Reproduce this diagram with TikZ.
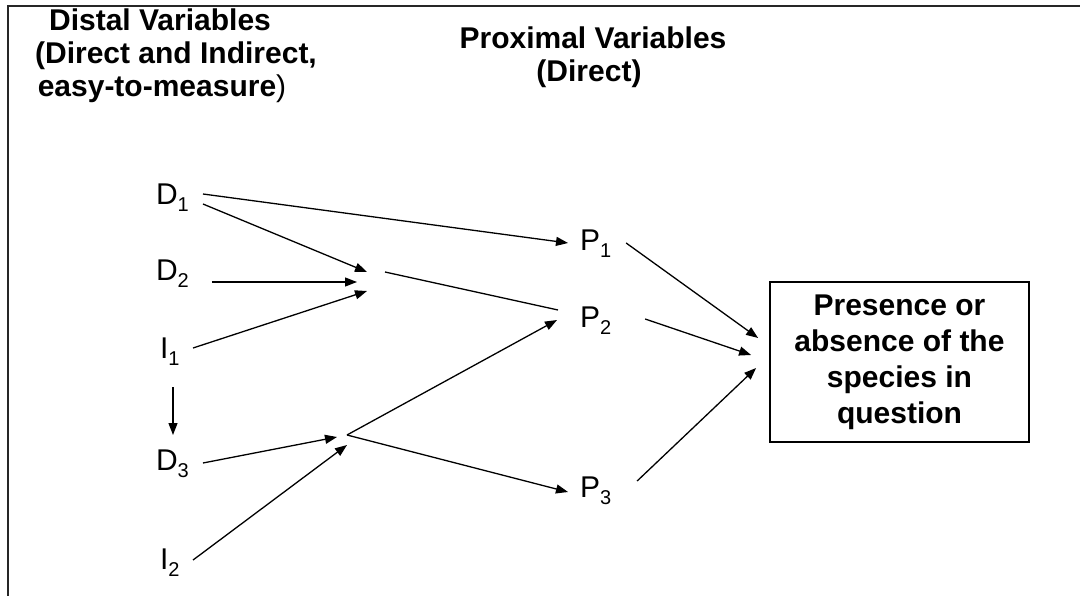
\documentclass[tikz,border=0pt]{standalone}
\usepackage{fontspec}
\setmainfont{Liberation Sans}
\usetikzlibrary{arrows.meta}
\newcommand\lsub[1]{{\fontsize{20}{20}\selectfont\raisebox{-7pt}{#1}}}
\begin{document}
\begin{tikzpicture}[x=1pt,y=-1pt,
  lbl/.style={anchor=base west, inner sep=0pt, outer sep=0pt, font=\fontsize{30}{36}\selectfont},
  hdr/.style={anchor=base, inner sep=0pt, outer sep=0pt, font=\bfseries\fontsize{30}{33}\selectfont},
  arr/.style={-{Triangle[length=12pt,width=9pt]}, line width=1.3pt},
  ln/.style={line width=1.3pt},
  frame/.style={line width=1.6pt, draw=black!85},
  result/.style={draw, line width=1.8pt, minimum width=259pt, minimum height=160pt, inner sep=0pt, align=center, font=\bfseries\fontsize{30}{36}\selectfont}]
\useasboundingbox (0,0) rectangle (1080,596);
% frame
\draw[frame] (8,596) -- (8,6) -- (1080,6);
% headers
\node[hdr] (dh1) at (160,31) {Distal Variables};
\node[hdr] (dh2) at (176,64) {(Direct and Indirect,};
\node[hdr] (dh3) at (162,97) {easy-to-measure\textmd{)}};
\node[hdr] (ph1) at (593,49) {Proximal Variables};
\node[hdr] (ph2) at (589,82) {(Direct)};
% labels
\node[lbl] (D1) at (156,205) {D\lsub{1}};
\node[lbl] (D2) at (156,281) {D\lsub{2}};
\node[lbl] (I1) at (160,359) {I\lsub{1}};
\node[lbl] (D3) at (156,470) {D\lsub{3}};
\node[lbl] (I2) at (160,569) {I\lsub{2}};
\node[lbl] (P1) at (580,251) {P\lsub{1}};
\node[lbl] (P2) at (580,327) {P\lsub{2}};
\node[lbl] (P3) at (580,497) {P\lsub{3}};
\node[result] (box) at (899.5,362) {Presence or\\absence of the\\species in\\question};
% junctions
\coordinate (J1) at (375,280);
\coordinate (J2) at (347,435);
% connectors
\draw[arr] ([shift={(14.2,-11)}]D1.base east) -- ([shift={(-12,-8)}]P1.base west);
\draw[arr] ([shift={(14.2,-1)}]D1.base east) -- ([shift={(-8,-8)}]J1);
\draw[arr] ([shift={(23.2,1)}]D2.base east) -- ([shift={(-18,2)}]J1);
\draw[arr] ([shift={(13.6,-11)}]I1.base east) -- ([shift={(-8,11)}]J1);
\draw[ln] ([shift={(10,-8)}]J1) -- ([shift={(-22,-17)}]P2.base west);
\draw[arr] ([shift={(13,28)}]I1.base west) -- ([shift={(17,-35)}]D3.base west);
\draw[arr] ([shift={(14.2,-7)}]D3.base east) -- ([shift={(-10,2)}]J2);
\draw[arr] ([shift={(13.6,-9)}]I2.base east) -- ([shift={(0,10)}]J2);
\draw[arr] (J2) -- ([shift={(-23,-7)}]P2.base west);
\draw[arr] (J2) -- ([shift={(-12,-5)}]P3.base west);
\draw[arr] ([shift={(15,-8)}]P1.base east) -- ([shift={(-11,-24)}]box.west);
\draw[arr] ([shift={(34,-8)}]P2.base east) -- ([shift={(-18,-7)}]box.west);
\draw[arr] ([shift={(26,-16)}]P3.base east) -- ([shift={(-13,6)}]box.west);
\end{tikzpicture}
\end{document}
